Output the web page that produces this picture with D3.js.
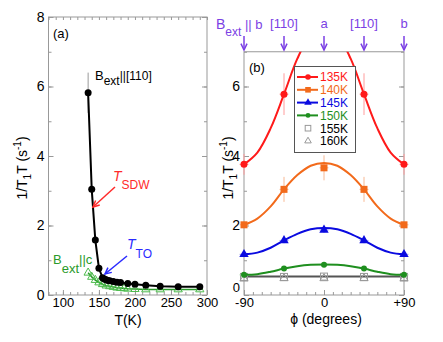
<!DOCTYPE html>
<html>
<head>
<meta charset="utf-8">
<script src="https://cdn.jsdelivr.net/npm/d3@7"></script>
<style>
  body { margin: 0; background: white; }
  text { font-family: "Liberation Sans", Arial, sans-serif; }
</style>
</head>
<body>
<div id="vis"></div>
<script>
// panel (a): rate vs temperature
var tempB110 = [135, 140, 145, 150, 155, 157.5, 160, 162.5, 165, 170, 175, 180, 190, 200, 215, 235, 260, 290];
var rateB110 = [5.82, 3.04, 1.58, 0.77, 0.50, 0.46, 0.44, 0.42, 0.41, 0.39, 0.37, 0.36, 0.33, 0.31, 0.28, 0.25, 0.24, 0.24];
var errB110 = [0.58, 0, 0, 0, 0, 0, 0, 0, 0, 0, 0, 0, 0, 0, 0, 0, 0, 0];

var tempBc = [135, 140, 145, 150, 155, 160, 165, 170, 175, 180, 185, 190, 200, 215, 235, 260, 290];
var rateBc = [0.64, 0.52, 0.43, 0.36, 0.31, 0.27, 0.25, 0.23, 0.21, 0.20, 0.19, 0.18, 0.17, 0.16, 0.16, 0.16, 0.16];

var tempTicks = [100, 150, 200, 250, 300];

// panel (b): rate vs angle
var phi = [-90, -45, 0, 45, 90];
var r135 = [3.76, 5.78, 7.8, 5.78, 3.76];
var e135 = [0.3, 0.6, 0.6, 0.6, 0.3];
var r140 = [2.02, 3.04, 3.66, 3.04, 2.02];
var e140 = [0.1, 0.36, 0.36, 0.36, 0.1];
var r145 = [1.17, 1.57, 1.87, 1.57, 1.17];
var e145 = [0.05, 0.08, 0.08, 0.08, 0.05];
var r150 = [0.58, 0.76, 0.87, 0.76, 0.58];
var e150 = [0.05, 0.06, 0.06, 0.06, 0.05];
var r155 = [0.52, 0.52, 0.53, 0.52, 0.52];
var r160 = [0.47, 0.48, 0.48, 0.48, 0.47];

// fitted curves
var fitPhi = [-90, -75, -60, -45, -30, -15, 0, 15, 30, 45, 60, 75, 90];
var fit135 = [3.76, 4.1, 4.8, 5.78, 6.8, 7.5, 7.8, 7.5, 6.8, 5.78, 4.8, 4.1, 3.76];
var fit140 = [2.02, 2.2, 2.55, 3.04, 3.45, 3.72, 3.8, 3.72, 3.45, 3.04, 2.55, 2.2, 2.02];
var fit145 = [1.17, 1.22, 1.36, 1.57, 1.76, 1.89, 1.93, 1.89, 1.76, 1.57, 1.36, 1.22, 1.17];
var fit150 = [0.58, 0.6, 0.67, 0.76, 0.83, 0.87, 0.88, 0.87, 0.83, 0.76, 0.67, 0.6, 0.58];
var fit155 = [0.53, 0.53, 0.53, 0.53, 0.53, 0.53, 0.53, 0.53, 0.53, 0.53, 0.53, 0.53, 0.53];

var dirPhi = [-90, -45, 0, 45, 90];
var dirLabels = ["", "[110]", "a", "[110]", "b"];

var seriesNames = ["135K", "140K", "145K", "150K", "155K", "160K"];

var axisColor = "#999";
var purple = "#7b3fe4";

function frameAxes(svg, x, y, xMajor, xMinor, yMajor, yMinor, xFmt, top)
{
  var g = svg.append("g");
  var x0 = x.range()[0], x1 = x.range()[1];
  var y0 = y.range()[0], y1 = y.range()[1];

  // minor ticks
  g.append("g").attr("transform", "translate(0," + y0 + ")")
    .call(d3.axisBottom(x).tickValues(xMinor).tickSize(-3).tickFormat(""));
  if (top) {
    g.append("g").attr("transform", "translate(0," + y1 + ")")
      .call(d3.axisTop(x).tickValues(xMinor).tickSize(-3).tickFormat(""));
  }
  g.append("g").attr("transform", "translate(" + x0 + ",0)")
    .call(d3.axisLeft(y).tickValues(yMinor).tickSize(-3).tickFormat(""));
  g.append("g").attr("transform", "translate(" + x1 + ",0)")
    .call(d3.axisRight(y).tickValues(yMinor).tickSize(-3).tickFormat(""));

  // major ticks with labels
  g.append("g").attr("class", "xlab").attr("transform", "translate(0," + y0 + ")")
    .call(d3.axisBottom(x).tickValues(xMajor).tickSize(-5).tickPadding(3).tickFormat(xFmt));
  g.append("g").attr("class", "ylab").attr("transform", "translate(" + x0 + ",0)")
    .call(d3.axisLeft(y).tickValues(yMajor).tickSize(-5).tickPadding(4).tickFormat(d3.format("d")));
  g.append("g").attr("transform", "translate(" + x1 + ",0)")
    .call(d3.axisRight(y).tickValues(yMajor).tickSize(-5).tickFormat(""));

  g.selectAll(".domain").remove();
  g.selectAll("line").style("stroke", axisColor);
  g.selectAll("text").style("font-family", "Liberation Sans, Arial, sans-serif")
    .style("font-size", "13px").style("fill", "#000");
  g.selectAll(".ylab text").style("font-size", "14px");

  g.append("rect")
    .attr("x", x0).attr("y", y1)
    .attr("width", x1 - x0).attr("height", y0 - y1)
    .style("fill", "none").style("stroke", axisColor).style("stroke-width", 1);
  return g;
}

function yTitle(svg, xb, yc)
{
  var t = svg.append("text")
    .attr("transform", "translate(" + xb + "," + yc + ") rotate(-90)")
    .style("text-anchor", "middle")
    .style("font-size", "14px");
  t.append("tspan").text("1/T");
  t.append("tspan").attr("dy", 4).style("font-size", "10px").text("1");
  t.append("tspan").attr("dy", -4).text("T (s");
  t.append("tspan").attr("dy", -6).style("font-size", "10px").text("-1");
  t.append("tspan").attr("dy", 6).text(")");
}

function symbol(g, type, cx, cy, color, size)
{
  if (type == "circle") {
    g.append("circle").attr("cx", cx).attr("cy", cy).attr("r", size / 2)
      .style("fill", color);
  } else if (type == "square") {
    g.append("rect").attr("x", cx - size / 2).attr("y", cy - size / 2)
      .attr("width", size).attr("height", size).style("fill", color);
  } else if (type == "triangle") {
    g.append("path").attr("d", d3.symbol(d3.symbolTriangle, size * size * 0.6)())
      .attr("transform", "translate(" + cx + "," + cy + ")").style("fill", color);
  } else if (type == "osquare") {
    g.append("rect").attr("x", cx - size / 2).attr("y", cy - size / 2)
      .attr("width", size).attr("height", size)
      .style("fill", "none").style("stroke", color).style("stroke-width", 1);
  } else if (type == "otriangle") {
    g.append("path").attr("d", d3.symbol(d3.symbolTriangle, size * size * 0.6)())
      .attr("transform", "translate(" + cx + "," + cy + ")")
      .style("fill", "none").style("stroke", color).style("stroke-width", 1);
  }
}

function arrow(svg, xa, ya, xb, yb, color)
{
  var ang = Math.atan2(yb - ya, xb - xa);
  var L = 7, w = 0.45;
  svg.append("line").attr("x1", xa).attr("y1", ya).attr("x2", xb).attr("y2", yb)
    .style("stroke", color).style("stroke-width", 1.5);
  svg.append("path")
    .attr("d", "M" + (xb - L * Math.cos(ang - w)) + "," + (yb - L * Math.sin(ang - w)) +
      "L" + xb + "," + yb +
      "L" + (xb - L * Math.cos(ang + w)) + "," + (yb - L * Math.sin(ang + w)))
    .style("fill", "none").style("stroke", color).style("stroke-width", 1.5);
}

function panelA(svg)
{
  var x = d3.scaleLinear().domain([80, 300]).range([48.5, 207]);
  var y = d3.scaleLinear().domain([0, 8]).range([295, 17]);

  frameAxes(svg, x, y, tempTicks, d3.range(80, 301, 10), [0, 2, 4, 6, 8], d3.range(0, 9, 1),
    d3.format("d"), true);

  var line = d3.line()
    .x(function(d) {return x(d[0]);})
    .y(function(d) {return y(d[1]);});

  // B || c : open green triangles
  var dc = d3.zip(tempBc, rateBc);
  svg.append("path").datum(dc).attr("d", line)
    .style("fill", "none").style("stroke", "#2a9a2a").style("stroke-width", 1.5);
  var gc = svg.append("g");
  dc.forEach(function(d) {symbol(gc, "otriangle", x(d[0]), y(d[1]), "#4cbb4c", 7);});

  // B || [110]
  var da = d3.zip(tempB110, rateB110, errB110);
  svg.selectAll(".errA").data(da.filter(function(d) {return d[2] > 0;}))
    .enter().append("line")
      .attr("x1", function(d) {return x(d[0]);})
      .attr("x2", function(d) {return x(d[0]);})
      .attr("y1", function(d) {return y(d[1] - d[2]);})
      .attr("y2", function(d) {return y(d[1] + d[2]);})
      .style("stroke", "#999").style("stroke-width", 1);
  svg.append("path").datum(da).attr("d", line)
    .style("fill", "none").style("stroke", "#000").style("stroke-width", 2);
  svg.selectAll(".ptA").data(da).enter().append("circle")
    .attr("cx", function(d) {return x(d[0]);})
    .attr("cy", function(d) {return y(d[1]);})
    .attr("r", 3.5).style("fill", "#000");

  // annotations
  svg.append("text").attr("x", 53).attr("y", 38).style("font-size", "13px").text("(a)");

  var t1 = svg.append("text").attr("x", 95).attr("y", 80).style("font-size", "13px");
  t1.append("tspan").text("B");
  t1.append("tspan").attr("dy", 5).style("font-size", "12px").text("ext");
  t1.append("tspan").attr("dy", -5).style("font-size", "12px").text("||[110]");

  var t2 = svg.append("text").attr("x", 113).attr("y", 181).style("fill", "#ff2a2a");
  t2.append("tspan").style("font-style", "italic").style("font-size", "14px").text("T");
  t2.append("tspan").attr("dy", 8).style("font-size", "12px").text("SDW");
  arrow(svg, 115, 187, 93, 207, "#ff2a2a");

  var t3 = svg.append("text").attr("x", 127).attr("y", 249).style("fill", "#2a2aff");
  t3.append("tspan").style("font-style", "italic").style("font-size", "14px").text("T");
  t3.append("tspan").attr("dy", 9).style("font-size", "12px").text("TO");
  arrow(svg, 127, 256, 105, 274, "#2a2aff");

  var t4 = svg.append("text").attr("x", 53).attr("y", 264).style("fill", "#2a9a2a")
    .style("font-size", "13px");
  t4.append("tspan").text("B");
  t4.append("tspan").attr("dy", 9).text("ext");
  t4.append("tspan").attr("dy", -9).text("||c");

  yTitle(svg, 27, 168);
  svg.append("text").attr("x", 128).attr("y", 325).style("text-anchor", "middle")
    .style("font-size", "14px").text("T(K)");
}

function panelB(svg)
{
  var x = d3.scaleLinear().domain([-90, 90]).range([244, 404]);
  var y = d3.scaleLinear().domain([0, 7]).range([295, 51.75]);

  var fmt = function(d) {return d > 0 ? "+" + d : d < 0 ? "-" + (-d) : "0";};
  var axes = frameAxes(svg, x, y, [-90, 0, 90], d3.range(-90, 91, 10), [0, 2, 4, 6], d3.range(0, 8, 1),
    fmt, false);
  // the "0" of the y axis sits just above the "-90" label
  axes.selectAll(".ylab .tick text").filter(function(d) {return d === 0;})
    .style("font-size", "13px").attr("dy", "-0.25em").attr("x", -4);

  svg.append("clipPath").attr("id", "clipB").append("rect")
    .attr("x", 236).attr("y", 51.75).attr("width", 176).attr("height", 250);
  var g = svg.append("g").attr("clip-path", "url(#clipB)");

  var line = d3.line()
    .x(function(d) {return x(d[0]);})
    .y(function(d) {return y(d[1]);})
    .curve(d3.curveCatmullRom);

  var s135 = {fit: fit135, vals: r135, err: e135, color: "#ff1a1a", light: "#ff9c9c", sym: "circle", size: 7, mark: "#ff1a1a", text: "#ff1a1a"};
  var s140 = {fit: fit140, vals: r140, err: e140, color: "#f26a1b", light: "#f8b994", sym: "square", size: 7, mark: "#f26a1b", text: "#f26a1b"};
  var s145 = {fit: fit145, vals: r145, err: e145, color: "#0a0ae0", light: "#9c9cf0", sym: "triangle", size: 8, mark: "#0a0ae0", text: "#0a0ae0"};
  var s150 = {fit: fit150, vals: r150, err: e150, color: "#1f8f1f", light: "#9fd29f", sym: "circle", size: 6, mark: "#1f8f1f", text: "#1f8f1f"};
  var s155 = {fit: fit155, vals: r155, err: null, color: "#555", light: "#bbb", sym: "osquare", size: 7, mark: "#999", text: "#000", noLegendLine: true};
  var s160 = {fit: null, vals: r160, err: null, color: "#555", light: "#bbb", sym: "otriangle", size: 7, mark: "#999", text: "#000", noLegendLine: true};

  // drawing order: back to front
  [s155, s160, s150, s145, s140, s135].forEach(function(s) {
    var pts = d3.zip(phi, s.vals, s.err || phi.map(function() {return 0;}));
    if (s.err) {
      pts.forEach(function(d) {
        g.append("line").attr("x1", x(d[0])).attr("x2", x(d[0]))
          .attr("y1", y(d[1] - d[2])).attr("y2", y(d[1] + d[2]))
          .style("stroke", s.light).style("stroke-width", 1);
        g.append("line").attr("x1", x(d[0] - 5)).attr("x2", x(d[0] + 5))
          .attr("y1", y(d[1])).attr("y2", y(d[1]))
          .style("stroke", s.light).style("stroke-width", 1);
      });
    }
    if (s.fit) {
      g.append("path").datum(d3.zip(fitPhi, s.fit)).attr("d", line)
        .style("fill", "none").style("stroke", s.color).style("stroke-width", 2);
    }
    pts.forEach(function(d) {symbol(g, s.sym, x(d[0]), y(d[1]), s.mark, s.size);});
  });

  // legend
  var lg = svg.append("g");
  lg.append("rect").attr("x", 294.5).attr("y", 66.5).attr("width", 61).attr("height", 86)
    .style("fill", "white").style("stroke", "#555").style("stroke-width", 1);
  [s135, s140, s145, s150, s155, s160].forEach(function(s, i) {
    var ly = 77 + i * 12.8;
    if (!s.noLegendLine) {
      lg.append("line").attr("x1", 297).attr("x2", 318).attr("y1", ly).attr("y2", ly)
        .style("stroke", s.color).style("stroke-width", 2);
    }
    symbol(lg, s.sym, 308, ly, s.mark, s.size * 0.8);
    lg.append("text").attr("x", 320).attr("y", ly + 4.3)
      .style("font-size", "12px")
      .style("fill", s.text)
      .text(seriesNames[i]);
  });

  svg.append("text").attr("x", 249).attr("y", 72).style("font-size", "13px").text("(b)");

  // field direction arrows on top
  dirPhi.forEach(function(p, i) {
    arrow(svg, x(p), 36, x(p), 50, purple);
    if (dirLabels[i]) {
      svg.append("text").attr("x", x(p)).attr("y", 28).style("text-anchor", "middle")
        .style("font-size", "13px").style("fill", purple).text(dirLabels[i]);
    }
  });
  var tb = svg.append("text").attr("x", 216).attr("y", 29).style("fill", purple)
    .style("font-size", "13px");
  tb.append("tspan").style("font-size", "14px").text("B");
  tb.append("tspan").attr("dy", 7).style("font-size", "12px").text("ext");
  tb.append("tspan").attr("dy", -7).text(" || b");

  yTitle(svg, 233, 168);
  svg.append("text").attr("x", 326).attr("y", 324).style("text-anchor", "middle")
    .style("font-size", "14px").text("\u03d5 (degrees)");
}

function init()
{
  var svg = d3.select("#vis").append("svg")
    .attr("width", 443).attr("height", 342);
  panelA(svg);
  panelB(svg);
}

window.onload = init;
</script>
</body>
</html>
